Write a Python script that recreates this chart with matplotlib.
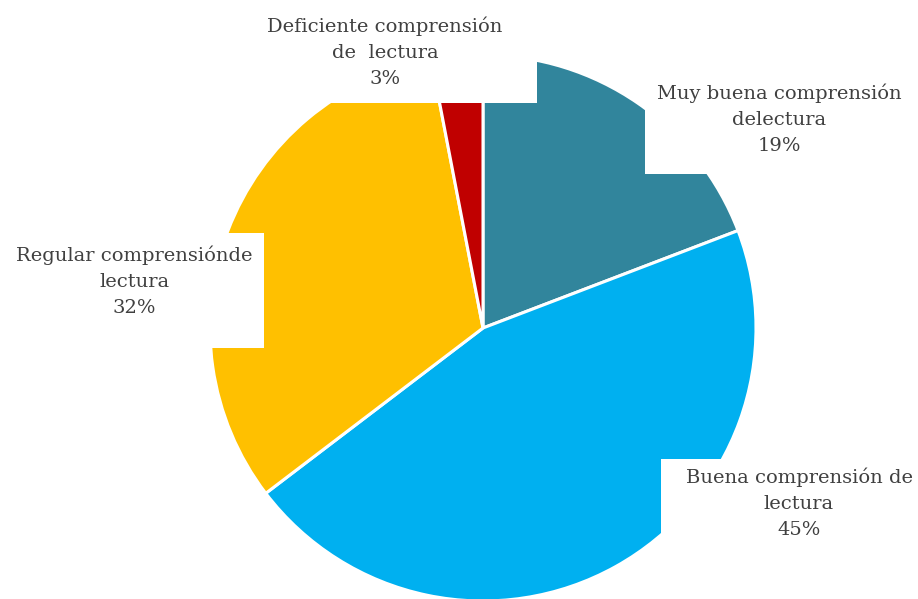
import matplotlib
matplotlib.use('Agg')
import matplotlib.pyplot as plt
from matplotlib.patches import Rectangle

categorias = ['Muy buena comprensión\ndelectura',
              'Buena comprensión de\nlectura',
              'Regular comprensiónde\nlectura',
              'Deficiente comprensión\nde  lectura']
porcentajes = [19, 45, 32, 3]
colores = ['#31859C', '#00B0F0', '#FFC000', '#C00000']

# label centres and white label boxes (x0, y0, x1, y1), pixel coords from the top
posLabels = [(779, 119), (799, 503), (134, 281), (385, 52)]
cajas = [(645, 0, 918, 174), (661, 459, 918, 599), (0, 233, 264, 348), (225, 0, 537, 103)]

W, H = 918, 599
fig = plt.figure(figsize=(W / 100, H / 100), dpi=100)
ax = fig.add_axes([0, 0, 1, 1])

# y inverted, so data-counterclockwise shows clockwise; -90 is the visual top
ax.pie(porcentajes, colors=colores, center=(483, 328), radius=273,
       startangle=-90, counterclock=True, frame=True,
       wedgeprops=dict(edgecolor='white', linewidth=2.2))
ax.set_xlim(0, W)
ax.set_ylim(H, 0)
ax.set_aspect('equal')
ax.axis('off')

for cat, pct, (x, y), (x0, y0, x1, y1) in zip(categorias, porcentajes, posLabels, cajas):
    ax.add_patch(Rectangle((x0, y0), x1 - x0, y1 - y0, facecolor='white',
                           edgecolor='none', zorder=4))
    ax.text(x, y, '{}\n{}%'.format(cat, pct), ha='center', va='center',
            fontsize=14, family='DejaVu Serif', color='#404040',
            linespacing=1.57, zorder=5)

plt.savefig('out.png', dpi=100)
